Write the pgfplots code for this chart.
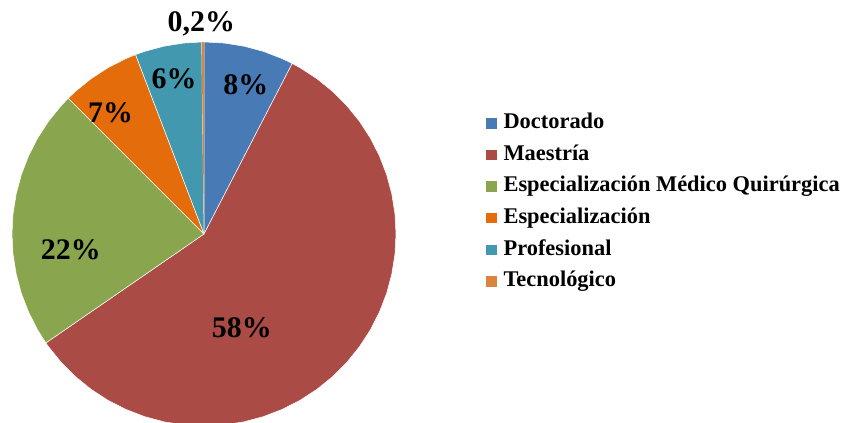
\documentclass[border=0pt]{standalone}
\usepackage{pgfplots}
\pgfplotsset{compat=1.18}
\usepackage{fontspec}
\setmainfont{Liberation Serif}
\definecolor{cDoc}{RGB}{72,122,182}
\definecolor{cMae}{RGB}{170,75,70}
\definecolor{cEMQ}{RGB}{137,165,78}
\definecolor{cEsp}{RGB}{228,108,10}
\definecolor{cPro}{RGB}{65,152,175}
\definecolor{cTec}{RGB}{219,132,61}
\begin{document}
\begin{tikzpicture}
\useasboundingbox (0bp,0bp) rectangle (845bp,-423bp);
\begin{axis}[
  at={(204bp,-234bp)}, anchor=center,
  scale only axis, width=384bp, height=384bp,
  xmin=-1, xmax=1, ymin=-1, ymax=1,
  hide axis, clip=false,
  legend style={at={(1.234,0.827)}, anchor=north west, draw=none, fill=none,
    inner sep=0pt, row sep=0pt, column sep=7bp,
    font=\fontsize{22.5}{24}\selectfont\bfseries,
    nodes={inner sep=0pt, text height=20bp, text depth=11.6bp, anchor=base west}},
  legend cell align=left,
  legend image code/.code={\fill[#1,draw=none] (0bp,0bp) rectangle (10.5bp,10.5bp);},
  every axis plot/.append style={draw=white, line width=0.5bp},
]
% Doctorado 7.6%
\addplot[fill=cDoc, data cs=polar] coordinates {(0,0) (90,1) (84,1) (78,1) (72,1) (66,1) (62.64,1) (0,0)};
\addlegendentry{Doctorado}
% Maestria 57.8%
\addplot[fill=cMae, data cs=polar] coordinates {(0,0) (62.64,1) (60,1) (54,1) (48,1) (42,1) (36,1) (30,1) (24,1) (18,1) (12,1) (6,1) (0,1) (-6,1) (-12,1) (-18,1) (-24,1) (-30,1) (-36,1) (-42,1) (-48,1) (-54,1) (-60,1) (-66,1) (-72,1) (-78,1) (-84,1) (-90,1) (-96,1) (-102,1) (-108,1) (-114,1) (-120,1) (-126,1) (-132,1) (-138,1) (-144,1) (-145.44,1) (0,0)};
\addlegendentry{Maestría}
% Especializacion Medico Quirurgica 22.1%
\addplot[fill=cEMQ, data cs=polar] coordinates {(0,0) (-145.44,1) (-150,1) (-156,1) (-162,1) (-168,1) (-174,1) (-180,1) (-186,1) (-192,1) (-198,1) (-204,1) (-210,1) (-216,1) (-222,1) (-225,1) (0,0)};
\addlegendentry{Especialización Médico Quirúrgica}
% Especializacion 6.7%
\addplot[fill=cEsp, data cs=polar] coordinates {(0,0) (-225,1) (-228,1) (-234,1) (-240,1) (-246,1) (-249.12,1) (0,0)};
\addlegendentry{Especialización}
% Profesional 5.6%
\addplot[fill=cPro, data cs=polar] coordinates {(0,0) (-249.12,1) (-252,1) (-258,1) (-264,1) (-269.28,1) (0,0)};
\addlegendentry{Profesional}
% Tecnologico 0.2%
\addplot[fill=cTec, draw=none, data cs=polar] coordinates {(0,0) (-269.28,1) (-270,1) (0,0)};
\addlegendentry{Tecnológico}
\begin{scope}[every node/.style={anchor=base, font=\fontsize{30}{31}\selectfont\bfseries, inner sep=0pt}]
\node at (axis cs:0.218,0.728) {8\%};
\node at (axis cs:0.197,-0.540) {58\%};
\node at (axis cs:-0.694,-0.135) {22\%};
\node at (axis cs:-0.487,0.580) {7\%};
\node at (axis cs:-0.156,0.760) {6\%};
\node at (axis cs:-0.014,1.054) {0,2\%};
\end{scope}
\end{axis}
\end{tikzpicture}
\end{document}
